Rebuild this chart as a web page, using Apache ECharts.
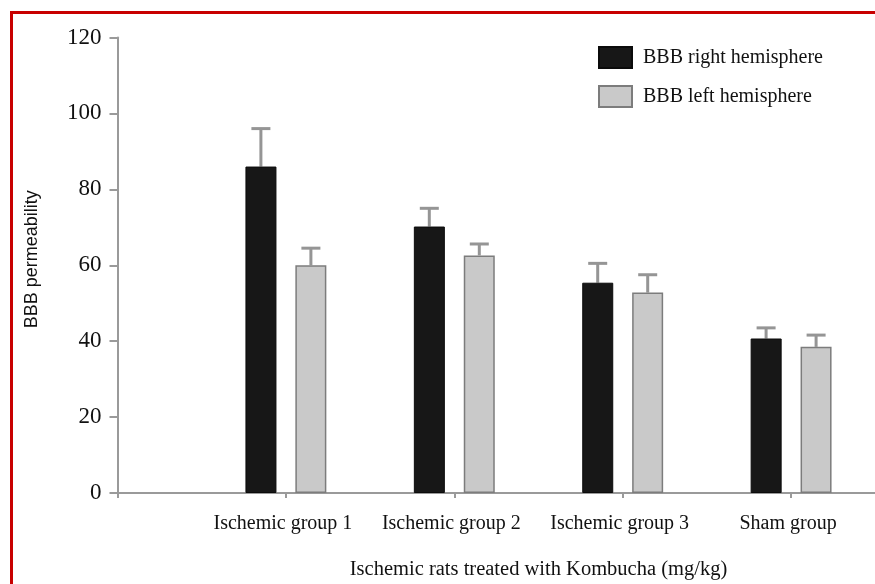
<!DOCTYPE html>
<html>
<head>
<meta charset="utf-8">
<script src="https://cdn.jsdelivr.net/npm/echarts@6/dist/echarts.min.js"></script>
<style>
html,body{margin:0;padding:0;background:#fff;}
#chart{width:875px;height:584px;}
</style>
</head>
<body>
<div id="chart"></div>
<script>
const categories = ['', 'Ischemic group 1', 'Ischemic group 2', 'Ischemic group 3', 'Sham group', ''];
const rightValues = [null, 86, 70.2, 55.4, 40.7];
const rightErrors = [null, 10, 4.8, 5.1, 2.8];
const leftValues = [null, 60, 62.6, 52.8, 38.5];
const leftErrors = [null, 4.5, 3.0, 4.7, 3.1];
const seriesNames = ['BBB right hemisphere', 'BBB left hemisphere'];
const yTicks = {min: 0, max: 120, interval: 20};

const serif = '"Liberation Serif", "DejaVu Serif", serif';
const barW = 31;
const offset = 25;

function errData(vals, errs) {
  const out = [];
  vals.forEach((v, i) => { if (v != null) out.push([i, v, v + errs[i]]); });
  return out;
}
function errSeries(vals, errs, dx) {
  return {
    type: 'custom',
    silent: true,
    z: 1,
    data: errData(vals, errs),
    renderItem: function (params, api) {
      const base = api.coord([api.value(0), api.value(1)]);
      const top = api.coord([api.value(0), api.value(2)]);
      const x = base[0] + dx;
      const style = {stroke: '#959595', lineWidth: 3};
      return {
        type: 'group',
        children: [
          {type: 'line', shape: {x1: x, y1: base[1], x2: x, y2: top[1]}, style: style},
          {type: 'line', shape: {x1: x - 9.5, y1: top[1], x2: x + 9.5, y2: top[1]}, style: style}
        ]
      };
    }
  };
}

const chart = echarts.init(document.getElementById('chart'));
chart.setOption({
  animation: false,
  backgroundColor: '#ffffff',
  graphic: [{
    type: 'rect', z: 100, silent: true,
    shape: {x: 11.5, y: 12.5, width: 2000, height: 2000},
    style: {fill: 'none', stroke: '#c80000', lineWidth: 3}
  }],
  grid: {left: 117.5, top: 37.5, bottom: 91, right: -84.5, containLabel: false, outerBoundsMode: 'none'},
  legend: {
    orient: 'vertical', left: 593, top: 41,
    itemWidth: 33, itemHeight: 21, itemGap: 16,
    icon: 'rect',
    data: seriesNames,
    textStyle: {fontFamily: serif, fontSize: 20, color: '#111', padding: [0, 0, 0, 6]}
  },
  xAxis: {
    type: 'category',
    data: categories,
    boundaryGap: false,
    name: 'Ischemic rats treated with Kombucha (mg/kg)',
    nameLocation: 'middle',
    nameGap: 66,
    nameTextStyle: {fontFamily: serif, fontSize: 20.5, color: '#111'},
    axisLine: {lineStyle: {color: '#9a9a9a', width: 2}},
    axisTick: {show: true, length: 5, lineStyle: {color: '#9a9a9a', width: 2}},
    axisLabel: {fontFamily: serif, fontSize: 20, color: '#111', margin: 21, interval: 0, padding: [0, 6, 0, 0]},
    splitLine: {show: false}
  },
  yAxis: {
    type: 'value',
    min: yTicks.min, max: yTicks.max, interval: yTicks.interval,
    name: 'BBB permeability',
    nameLocation: 'middle',
    nameGap: 76,
    nameTextStyle: {fontFamily: '"Liberation Sans", Arial, sans-serif', fontSize: 18, color: '#111', padding: [0, 0, 0, 12]},
    axisLine: {show: true, lineStyle: {color: '#9a9a9a', width: 2}},
    axisTick: {show: true, length: 8, lineStyle: {color: '#9a9a9a', width: 2}},
    axisLabel: {fontFamily: serif, fontSize: 23, color: '#111', margin: 16},
    splitLine: {show: false}
  },
  series: [
    {
      name: seriesNames[0], type: 'bar', data: rightValues, barWidth: barW, barGap: '61%', z: 2,
      itemStyle: {color: '#171717', borderColor: '#0b0b0b', borderWidth: 1}
    },
    {
      name: seriesNames[1], type: 'bar', data: leftValues, barWidth: barW, z: 2,
      itemStyle: {color: '#c9c9c9', borderColor: '#7c7c7c', borderWidth: 1.5}
    },
    errSeries(rightValues, rightErrors, -offset),
    errSeries(leftValues, leftErrors, offset)
  ]
});
</script>
</body>
</html>
